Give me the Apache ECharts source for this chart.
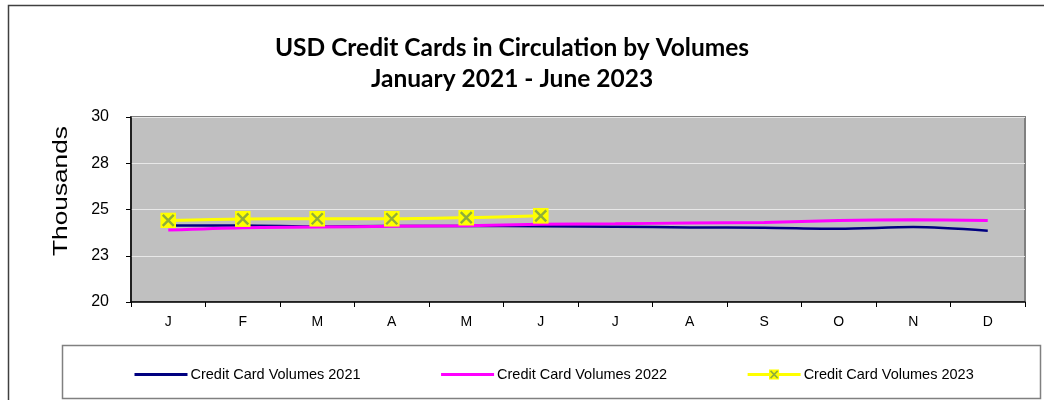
<!DOCTYPE html>
<html>
<head>
<meta charset="utf-8">
<script src="https://cdn.jsdelivr.net/npm/echarts@6/dist/echarts.min.js"></script>
<style>
  html, body { margin: 0; padding: 0; background: #fff; }
  #chart { width: 1044px; height: 400px; }
</style>
</head>
<body>
<div id="chart"></div>
<script>
// month initials on the x axis
const months = ['J', 'F', 'M', 'A', 'M', 'J', 'J', 'A', 'S', 'O', 'N', 'D']

// values in thousands
const vol2021 = [24.14, 24.14, 24.07, 24.11, 24.11, 24.09, 24.07, 24.03, 24.02, 23.96, 24.05, 23.85]
const vol2022 = [23.89, 24.02, 24.05, 24.09, 24.12, 24.2, 24.23, 24.27, 24.3, 24.41, 24.45, 24.41]
const vol2023 = [24.41, 24.49, 24.5, 24.5, 24.56, 24.66]

const names = ['Credit Card Volumes 2021', 'Credit Card Volumes 2022', 'Credit Card Volumes 2023']

// yellow square with a green X, as a small svg
const crossSvg = "<svg xmlns='http://www.w3.org/2000/svg' width='16' height='16'>" +
  "<rect width='16' height='16' fill='#ffff00'/>" +
  "<path d='M2.5 2.5L13.5 13.5M13.5 2.5L2.5 13.5' stroke='#8fae3a' stroke-width='2.4'/></svg>"
const crossBox = 'image://data:image/svg+xml;charset=utf-8,' + encodeURIComponent(crossSvg)

const chart = echarts.init(document.getElementById('chart'))

const option = {
  animation: false,
  backgroundColor: '#fff',
  title: {
    text: 'USD Credit Cards in Circulation by Volumes\nJanuary 2021 - June 2023',
    left: 507,
    top: 28,
    textAlign: 'center',
    textStyle: {
      fontFamily: 'Lato',
      fontWeight: 'bold',
      fontSize: 24.5,
      lineHeight: 31,
      color: '#000'
    }
  },
  graphic: [
    {
      type: 'rect',
      shape: { x: 8.5, y: 5.5, width: 1100, height: 500 },
      style: { fill: 'none', stroke: '#404040', lineWidth: 1.5 },
      silent: true
    },
    {
      type: 'rect',
      shape: { x: 62.5, y: 345.5, width: 978, height: 53 },
      style: { fill: '#fff', stroke: '#808080', lineWidth: 1.5 },
      silent: true
    },
    {
      type: 'text',
      x: 61,
      y: 191,
      rotation: Math.PI / 2,
      scaleX: 1.25,
      style: {
        text: 'Thousands',
        fontFamily: 'Liberation Sans',
        fontSize: 21,
        fill: '#000',
        align: 'center',
        verticalAlign: 'middle'
      },
      silent: true
    }
  ],
  legend: {
    data: [
      { name: names[0], itemStyle: { opacity: 0 }, lineStyle: { width: 3 } },
      { name: names[1], itemStyle: { opacity: 0 }, lineStyle: { width: 3 } },
      { name: names[2], lineStyle: { width: 3 } }
    ],
    left: 128,
    top: 362,
    itemWidth: 53,
    itemHeight: 13,
    itemGap: 79,
    textStyle: {
      fontFamily: 'Liberation Sans',
      fontSize: 14.5,
      color: '#000',
      padding: [0, 0, 0, -2]
    }
  },
  grid: {
    left: 131,
    right: 19,
    top: 117,
    bottom: 98,
    show: true,
    backgroundColor: '#c0c0c0',
    borderColor: '#808080',
    borderWidth: 2
  },
  xAxis: {
    type: 'category',
    data: months,
    boundaryGap: true,
    axisLine: { lineStyle: { color: '#000', width: 1.5 } },
    axisTick: { show: true, length: 5, lineStyle: { color: '#000' } },
    axisLabel: {
      fontFamily: 'Liberation Sans',
      fontSize: 14,
      color: '#000',
      margin: 13
    }
  },
  yAxis: {
    type: 'value',
    min: 20,
    max: 30,
    interval: 2.5,
    axisLine: { show: true, lineStyle: { color: '#000', width: 1.5 } },
    axisTick: { show: true, length: 5, lineStyle: { color: '#000' } },
    axisLabel: {
      fontFamily: 'Liberation Sans',
      fontSize: 16,
      color: '#000',
      margin: 22,
      formatter: v => Math.round(v)
    },
    splitLine: { lineStyle: { color: '#e8e8e8', width: 1 } }
  },
  series: [
    {
      name: names[0],
      type: 'line',
      data: vol2021,
      smooth: 0.3,
      symbol: 'none',
      lineStyle: { color: '#000080', width: 2.5 },
      itemStyle: { color: '#000080' }
    },
    {
      name: names[1],
      type: 'line',
      data: vol2022,
      smooth: 0.3,
      symbol: 'none',
      lineStyle: { color: '#ff00ff', width: 3 },
      itemStyle: { color: '#ff00ff' }
    },
    {
      name: names[2],
      type: 'line',
      data: vol2023,
      smooth: 0.3,
      symbol: crossBox,
      symbolSize: 16,
      lineStyle: { color: '#ffff00', width: 3 },
      itemStyle: { color: '#ffff00' },
      z: 3
    }
  ]
}

chart.setOption(option)
</script>
</body>
</html>
